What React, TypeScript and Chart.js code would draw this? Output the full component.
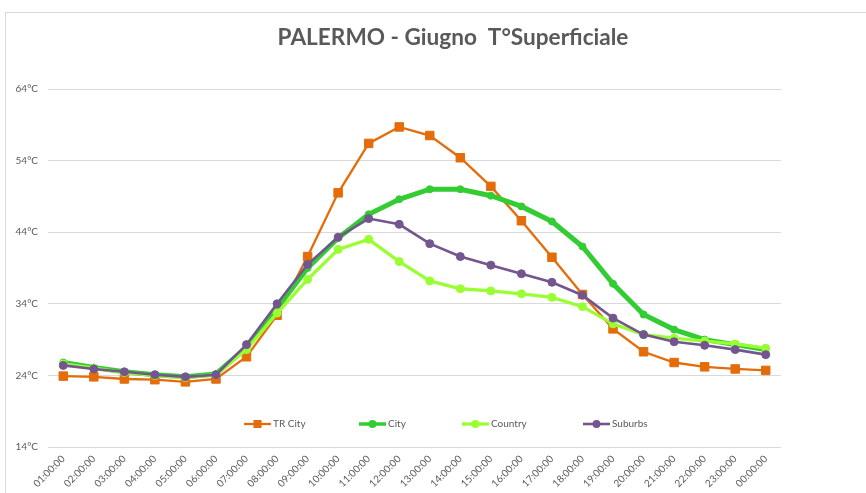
import React, { useEffect, useRef } from "react";
import { Chart, registerables } from "chart.js";

Chart.register(...registerables);

const hours = [
  "01:00:00", "02:00:00", "03:00:00", "04:00:00", "05:00:00", "06:00:00",
  "07:00:00", "08:00:00", "09:00:00", "10:00:00", "11:00:00", "12:00:00",
  "13:00:00", "14:00:00", "15:00:00", "16:00:00", "17:00:00", "18:00:00",
  "19:00:00", "20:00:00", "21:00:00", "22:00:00", "23:00:00", "00:00:00",
];

const trCity = [
  23.9, 23.8, 23.5, 23.4, 23.1, 23.5, 26.6, 32.4, 40.6, 49.5, 56.4, 58.7,
  57.5, 54.4, 50.4, 45.6, 40.5, 35.3, 30.5, 27.3, 25.8, 25.2, 24.9, 24.7,
];

const city = [
  25.8, 25.1, 24.5, 24.1, 23.8, 24.2, 27.9, 33.4, 39.0, 43.2, 46.5, 48.6,
  50.0, 50.0, 49.1, 47.6, 45.5, 42.0, 36.8, 32.5, 30.4, 29.0, 28.3, 27.6,
];

const country = [
  25.6, 25.0, 24.4, 24.0, 23.7, 24.1, 27.6, 32.7, 37.4, 41.6, 43.0, 39.9,
  37.2, 36.1, 35.8, 35.4, 34.9, 33.6, 31.2, 29.7, 29.2, 28.8, 28.4, 27.8,
];

const suburbs = [
  25.4, 24.9, 24.5, 24.1, 23.8, 24.1, 28.3, 34.0, 39.5, 43.3, 45.9, 45.1,
  42.4, 40.6, 39.4, 38.2, 37.0, 35.2, 32.0, 29.7, 28.7, 28.2, 27.6, 26.9,
];

const seriesNames = ["TR City", "City", "Country", "Suburbs"];
const titleText = "PALERMO - Giugno  T°Superficiale";

const FONT = "Lato, 'Open Sans', sans-serif";
const TEXT = "#595959";

const decorPlugin = {
  id: "decor",
  beforeDraw(chart: any) {
    const ctx = chart.ctx;
    ctx.save();
    ctx.fillStyle = "#ffffff";
    ctx.fillRect(0, 0, chart.width, chart.height);
    ctx.strokeStyle = "#d9d9d9";
    ctx.lineWidth = 1;
    ctx.strokeRect(5.5, 12.5, chart.width + 20, chart.height + 20);
    ctx.restore();
  },
  afterDraw(chart: any) {
    const ctx = chart.ctx;
    const area = chart.chartArea;
    ctx.save();
    // title
    ctx.fillStyle = TEXT;
    ctx.font = `bold 22.6px ${FONT}`;
    ctx.textAlign = "center";
    ctx.textBaseline = "middle";
    ctx.fillText(titleText, 453, 38);
    // legend inside plot area
    const offsets = [196, 311, 414, 535];
    const y = area.bottom - 23;
    ctx.font = `10px ${FONT}`;
    ctx.textAlign = "left";
    chart.data.datasets.forEach((ds: any, i: number) => {
      const x0 = area.left + offsets[i];
      const x1 = x0 + 27;
      ctx.strokeStyle = ds.borderColor;
      ctx.lineWidth = Math.min(ds.borderWidth, 3.5);
      ctx.beginPath();
      ctx.moveTo(x0, y);
      ctx.lineTo(x1, y);
      ctx.stroke();
      ctx.fillStyle = ds.pointBackgroundColor;
      const cx = (x0 + x1) / 2;
      if (ds.pointStyle === "rect") {
        ctx.fillRect(cx - 4, y - 4, 8, 8);
      } else {
        ctx.beginPath();
        ctx.arc(cx, y, 4, 0, Math.PI * 2);
        ctx.fill();
      }
      ctx.fillStyle = TEXT;
      ctx.fillText(ds.label, x1 + 2, y);
    });
    ctx.restore();
  },
};

export default function App() {
  const ref = useRef<HTMLCanvasElement | null>(null);

  useEffect(() => {
    if (!ref.current) return;
    const mk = (
      label: string,
      data: number[],
      color: string,
      width: number,
      style: string,
      radius: number,
      order: number
    ) => ({
      label,
      data,
      borderColor: color,
      backgroundColor: color,
      pointBackgroundColor: color,
      pointBorderColor: color,
      pointBorderWidth: 1,
      borderWidth: width,
      pointStyle: style,
      pointRadius: radius,
      tension: 0,
      order,
    });
    const chart = new Chart(ref.current, {
      type: "line",
      data: {
        labels: hours,
        datasets: [
          mk(seriesNames[0], trCity, "#E46C0A", 2.3, "rect", 6, 3),
          mk(seriesNames[1], city, "#33CC33", 5, "circle", 3.5, 2),
          mk(seriesNames[2], country, "#99FF33", 3.3, "circle", 4, 1),
          mk(seriesNames[3], suburbs, "#73568F", 2.6, "circle", 4, 0),
        ] as any,
      },
      options: {
        animation: false,
        responsive: false,
        maintainAspectRatio: false,
        layout: { padding: { left: 10, right: 85, top: 89, bottom: 0 } },
        plugins: {
          legend: { display: false },
          title: { display: false },
          tooltip: { enabled: false },
        },
        scales: {
          x: {
            offset: true,
            grid: { display: false, drawTicks: false },
            border: { display: false },
            ticks: {
              color: TEXT,
              font: { family: FONT, size: 10 },
              minRotation: 45,
              maxRotation: 45,
              autoSkip: false,
              padding: 6,
            },
            afterFit(scale: any) {
              scale.height = 46;
            },
          },
          y: {
            min: 14,
            max: 64,
            grid: { color: "#d9d9d9", lineWidth: 1, drawTicks: false },
            border: { display: false },
            ticks: {
              stepSize: 10,
              color: TEXT,
              font: { family: FONT, size: 10 },
              padding: 10,
              callback: (v: any) => `${v}°C`,
            },
            afterFit(scale: any) {
              scale.width = 38;
            },
          },
        },
      } as any,
      plugins: [decorPlugin],
    });
    return () => chart.destroy();
  }, []);

  return (
    <div style={{ position: "absolute", left: 0, top: 0, width: 866, height: 493 }}>
      <canvas ref={ref} width={866} height={493} style={{ width: 866, height: 493, display: "block" }} />
    </div>
  );
}
